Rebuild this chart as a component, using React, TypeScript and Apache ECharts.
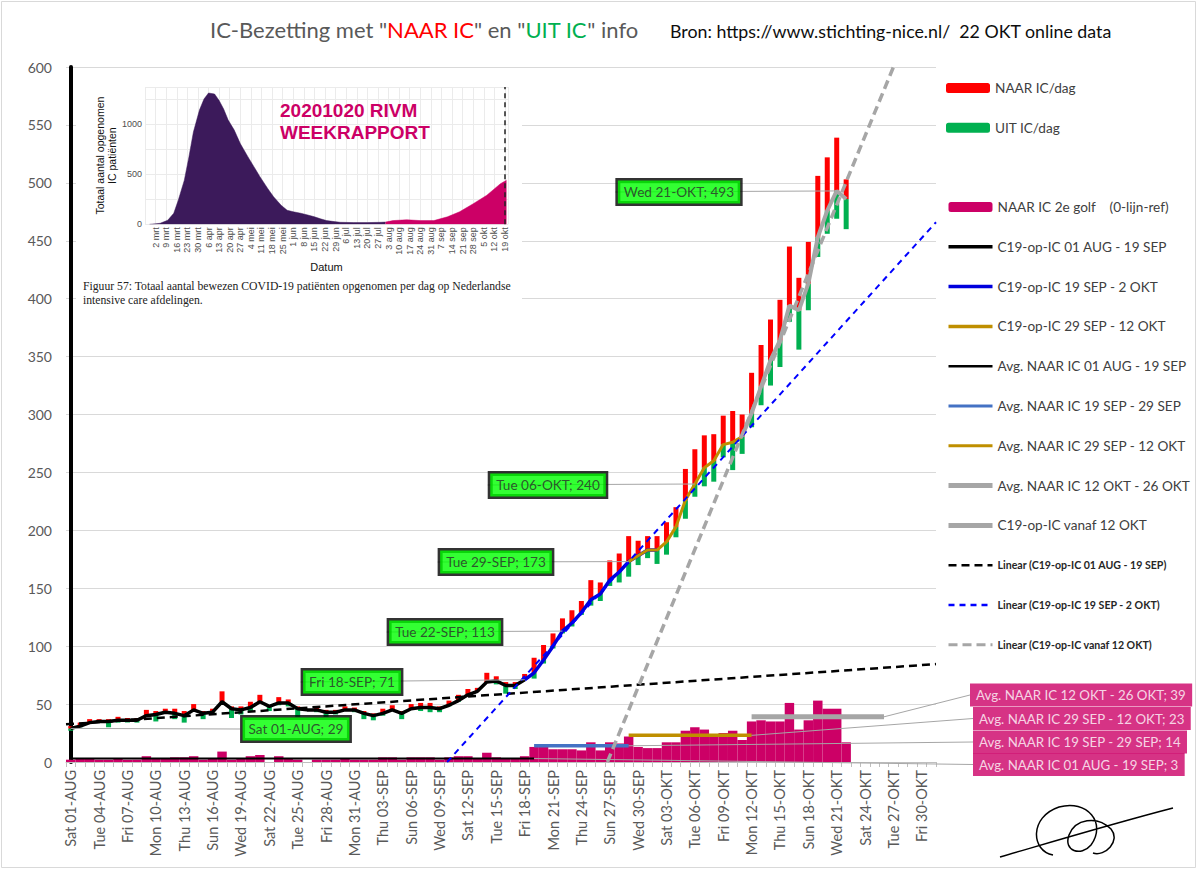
import React, { useEffect, useRef } from 'react';
import * as echarts from 'echarts';

// ---------- categories (1 AUG .. 31 OKT 2020) ----------
const N_DAYS = 92;
const MONTHS_UP = ['JAN', 'FEB', 'MRT', 'APR', 'MEI', 'JUN', 'JUL', 'AUG', 'SEP', 'OKT', 'NOV', 'DEC'];
const DAY_NAMES = ['Sun', 'Mon', 'Tue', 'Wed', 'Thu', 'Fri', 'Sat'];
const pad2 = (n: number) => (n < 10 ? '0' + n : '' + n);
const categories: string[] = Array.from({ length: N_DAYS }, (_, i) => {
  const d = new Date(Date.UTC(2020, 7, 1 + i));
  return `${DAY_NAMES[d.getUTCDay()]} ${pad2(d.getUTCDate())}-${MONTHS_UP[d.getUTCMonth()]}`;
});

// ---------- daily values (1 AUG .. 22 OKT) ----------
const occupancy = [
  29, 31, 34, 35, 35, 36, 36, 36, 40, 41,
  43, 42, 40, 45, 42, 43, 52, 46, 45, 47,
  52, 48, 51, 51, 46, 45, 45, 43, 43, 45,
  45, 42, 40, 42, 45, 42, 46, 47, 47, 46,
  49, 53, 58, 61, 69, 70, 66, 66, 71, 77,
  88, 100, 113, 120, 129, 140, 145, 157, 164, 173,
  178, 183, 183, 190, 203, 226, 240, 254, 260, 274,
  276, 281, 301, 324, 347, 364, 394, 390, 413, 453,
  476, 493, 486,
];
const naarIC = [
  2, 3, 3, 2, 2, 3, 2, 2, 5, 3,
  3, 4, 4, 5, 2, 3, 9, 2, 3, 5,
  6, 0, 5, 3, 2, 0, 2, 2, 2, 3,
  2, 2, 2, 4, 4, 2, 4, 4, 4, 2,
  4, 5, 5, 3, 8, 4, 3, 3, 5, 13,
  13, 11, 11, 11, 10, 17, 10, 17, 16, 22,
  13, 12, 12, 17, 17, 27, 30, 28, 23, 25,
  27, 19, 35, 36, 35, 35, 51, 28, 36, 53,
  46, 46, 17,
];
const uitIC = [
  2, 1, 0, 1, 5, 2, 2, 2, 1, 6,
  1, 5, 6, 0, 5, 2, 0, 8, 4, 3,
  1, 4, 2, 3, 7, 1, 2, 4, 2, 1,
  2, 5, 4, 2, 1, 5, 0, 3, 4, 3,
  1, 1, 0, 0, 0, 3, 7, 3, 0, 5,
  3, 2, 2, 3, 2, 5, 6, 5, 9, 13,
  8, 7, 12, 11, 9, 16, 11, 16, 18, 11,
  24, 15, 12, 16, 22, 23, 14, 34, 23, 17,
  20, 24, 26,
];

// line segments of the occupancy curve [from, to] (day index)
const segBlack = [0, 48];
const segBlue = [48, 62];
const segGold = [59, 71];
const segGrey = [71, 82];

// averages of NAAR IC per period
const avgPeriods = ['01 AUG - 19 SEP', '19 SEP - 29 SEP', '29 SEP - 12 OKT', '12 OKT - 26 OKT'];
const avgValues = [3, 14, 23, 39];
const avgStart = [0, 49, 59, 72];
const avgEnd = [49, 59, 72, 86];

// linear trend lines: [dayIndex, value] end points
const trendAug = [[-0.5, 32.5], [91.5, 84.5]];
const trendSep = [[39.8, 0], [91.5, 466]];
const trendOct = [[56.75, 0], [87.0, 600]];

// labelled days
const occLabelIdx = [0, 48, 52, 59, 66, 81];

// y ticks
const Y_MAX = 600;
const Y_STEP = 50;

// ---------- inset (RIVM weekrapport), x = days since 24 feb 2020 ----------
const rivmDays1 = [3, 7, 10, 15, 19, 22, 26, 29, 32, 36, 39, 42, 46, 49, 52, 55, 59, 63, 68, 72, 76, 81, 85, 90, 94, 98, 103, 107, 112, 116, 120, 125, 129, 138, 147, 156, 159];
const rivmVals1 = [0, 5, 10, 40, 110, 240, 440, 670, 920, 1140, 1250, 1310, 1300, 1235, 1150, 1040, 940, 805, 675, 575, 475, 360, 275, 190, 140, 125, 110, 95, 75, 55, 37, 27, 20, 17, 17, 20, 22];
const rivmDays2 = [159, 164, 173, 182, 191, 200, 208, 217, 226, 235, 239];
const rivmVals2 = [22, 37, 45, 37, 37, 75, 125, 205, 290, 405, 440];
const NL_MONTHS = ['jan', 'feb', 'mrt', 'apr', 'mei', 'jun', 'jul', 'aug', 'sep', 'okt', 'nov', 'dec'];
const RIVM_MARK_DAY = 238; // 19 okt

// ---------- layout (pixels) ----------
const occLabelPos = [[296, 729], [352, 682], [445, 632], [496, 562], [548, 485], [679, 192]];
const avgLabelPos = [[973, 764.5], [973, 742], [973, 718.5], [970, 695]];

const SIGNATURE_D =
  'M5 62 C 60 46, 120 28, 178 13 M58 60 C 36 56, 34 22, 64 12 C 92 4, 112 28, 96 50 C 86 62, 68 56, 74 40 C 80 24, 102 20, 116 34 C 126 46, 110 62, 98 58';
echarts.graphic.registerShape('signature', echarts.graphic.extendPath(SIGNATURE_D, {}));

const seg = (arr: number[], r: number[]) =>
  Array.from({ length: N_DAYS }, (_, i) => (i >= r[0] && i <= r[1] && i < arr.length ? arr[i] : null));
const full = (arr: (number | null)[]) => Array.from({ length: N_DAYS }, (_, i) => (i < arr.length ? arr[i] : null));

const FONT = 'Lato';

function buildOption(): any {
  const base = full(occupancy.map((v, i) => v - uitIC[i]));
  const lineSeries = (name: string, data: any[], color: string, width: number, extra: any = {}) => ({
    name,
    type: 'line',
    xAxisIndex: 0,
    yAxisIndex: 0,
    data,
    symbol: 'none',
    showSymbol: false,
    connectNulls: false,
    lineStyle: { color, width },
    itemStyle: { color },
    silent: true,
    z: 4,
    ...extra,
  });
  const trendSeries = (name: string, data: number[][], color: string, width: number, dash: number[]) => ({
    name,
    type: 'line',
    xAxisIndex: 2,
    yAxisIndex: 0,
    data,
    symbol: 'none',
    showSymbol: false,
    lineStyle: { color, width, type: dash },
    itemStyle: { color },
    silent: true,
    z: 5,
  });
  const avgColors = ['#000000', '#4472C4', '#BF8F00', '#A6A6A6'];
  const avgWidths = [2, 3.5, 3.5, 5];
  const avgSeries = avgPeriods.map((p, k) =>
    lineSeries(
      `Avg. NAAR IC ${p}`,
      Array.from({ length: N_DAYS }, (_, i) => (i >= avgStart[k] && i <= avgEnd[k] ? avgValues[k] : null)),
      avgColors[k],
      avgWidths[k],
      { z: 3 }
    )
  );

  const legendText = { color: '#404040', fontSize: 13.6, fontFamily: FONT, lineHeight: 16 };
  const linearText = { color: '#262626', fontSize: 10.6, fontWeight: 'bold', fontFamily: FONT, lineHeight: 16 };
  const hideSym = { opacity: 0 };
  const lineItem = (name: string, width: number, textStyle?: any) => {
    const item: any = { name, itemStyle: hideSym, lineStyle: { width } };
    if (textStyle) item.textStyle = textStyle;
    return item;
  };

  return {
    animation: false,
    backgroundColor: '#ffffff',
    textStyle: { fontFamily: FONT },
    title: [
      {
        text: '{a|IC-Bezetting met "}{r|NAAR IC}{a|" en "}{g|UIT IC}{a|" info}',
        left: 210,
        top: 18,
        padding: 0,
        textStyle: {
          fontWeight: 'normal',
          rich: {
            a: { color: '#595959', fontSize: 22, fontWeight: 'normal', fontFamily: FONT },
            r: { color: '#FF0000', fontSize: 22, fontWeight: 'normal', fontFamily: FONT },
            g: { color: '#00B050', fontSize: 22, fontWeight: 'normal', fontFamily: FONT },
          },
        },
      },
      {
        text: 'Bron: https://www.stichting-nice.nl/  22 OKT online data',
        left: 670,
        top: 22,
        padding: 0,
        textStyle: { color: '#0D0D0D', fontSize: 17.8, fontWeight: 'normal', fontFamily: FONT },
      },
    ],
    legend: [
      {
        orient: 'vertical',
        left: 946,
        top: 80,
        padding: 0,
        itemWidth: 44,
        itemHeight: 10,
        itemGap: 23.8,
        selectedMode: false,
        textStyle: legendText,
        data: ['NAAR IC/dag', 'UIT IC/dag'],
      },
      {
        orient: 'vertical',
        left: 946,
        top: 199,
        padding: 0,
        itemWidth: 44,
        itemHeight: 10,
        itemGap: 23.8,
        selectedMode: false,
        textStyle: legendText,
        data: [
          { name: 'NAAR IC 2e golf    (0-lijn-ref)' },
          lineItem('C19-op-IC 01 AUG - 19 SEP', 3.5),
          lineItem('C19-op-IC 19 SEP - 2 OKT', 3.5),
          lineItem('C19-op-IC 29 SEP - 12 OKT', 3.5),
          lineItem('Avg. NAAR IC 01 AUG - 19 SEP', 2.5),
          lineItem('Avg. NAAR IC 19 SEP - 29 SEP', 3),
          lineItem('Avg. NAAR IC 29 SEP - 12 OKT', 3),
          lineItem('Avg. NAAR IC 12 OKT - 26 OKT', 5),
          lineItem('C19-op-IC vanaf 12 OKT', 5),
          lineItem('Linear (C19-op-IC 01 AUG - 19 SEP)', 2.5, linearText),
          lineItem('Linear (C19-op-IC 19 SEP - 2 OKT)', 2.5, linearText),
          lineItem('Linear (C19-op-IC vanaf 12 OKT)', 3, linearText),
        ],
      },
    ],
    grid: [
      { left: 66, top: 67, width: 870, height: 695 },
      { left: 145, top: 87, width: 363, height: 137.3 },
    ],
    xAxis: [
      {
        type: 'category',
        gridIndex: 0,
        data: categories,
        boundaryGap: true,
        axisLine: { lineStyle: { color: '#BFBFBF', width: 1 } },
        axisTick: { show: true, interval: 0, length: 5, lineStyle: { color: '#BFBFBF' } },
        axisLabel: { interval: 2, rotate: 90, color: '#595959', fontSize: 14.5, margin: 8, fontFamily: FONT },
        splitLine: { show: false },
      },
      {
        type: 'category',
        gridIndex: 0,
        data: categories,
        show: false,
      },
      {
        type: 'value',
        gridIndex: 0,
        min: -0.5,
        max: N_DAYS - 0.5,
        show: false,
      },
      {
        type: 'value',
        gridIndex: 1,
        min: 0,
        max: 240,
        interval: 7,
        z: 3,
        name: 'Datum',
        nameLocation: 'middle',
        nameGap: 37,
        nameTextStyle: { color: '#111', fontSize: 11, fontFamily: 'Liberation Sans' },
        axisLine: { show: false },
        axisTick: { show: false },
        axisLabel: {
          rotate: 90,
          margin: 3,
          fontSize: 9,
          color: '#4D4D4D',
          fontFamily: 'Liberation Sans',
          formatter: (v: number) => {
            if (v < 7 || v > RIVM_MARK_DAY || v % 7 !== 0) return '';
            const d = new Date(Date.UTC(2020, 1, 24 + v));
            return `${d.getUTCDate()} ${NL_MONTHS[d.getUTCMonth()]}`;
          },
        },
        splitLine: { show: true, lineStyle: { color: '#EBEBEB', width: 1 } },
      },
    ],
    yAxis: [
      {
        type: 'value',
        gridIndex: 0,
        min: 0,
        max: Y_MAX,
        interval: Y_STEP,
        axisLine: { show: true, lineStyle: { color: '#000000', width: 4 } },
        axisTick: { show: false },
        axisLabel: { color: '#595959', fontSize: 14, margin: 14, fontFamily: FONT },
        splitLine: { show: true, lineStyle: { color: '#D9D9D9', width: 1 } },
      },
      {
        type: 'value',
        gridIndex: 1,
        min: 0,
        max: 1370,
        interval: 250,
        z: 3,
        name: 'Totaal aantal opgenomen\nIC patiënten',
        nameLocation: 'middle',
        nameRotate: 90,
        nameGap: 27,
        nameTextStyle: { color: '#111', fontSize: 10.5, lineHeight: 12, fontFamily: 'Liberation Sans' },
        axisLine: { show: false },
        axisTick: { show: false },
        axisLabel: {
          margin: 3,
          fontSize: 9,
          color: '#4D4D4D',
          fontFamily: 'Liberation Sans',
          formatter: (v: number) => (v % 500 === 0 && v <= 1000 ? String(v) : ''),
        },
        splitLine: { show: true, lineStyle: { color: '#EBEBEB', width: 1 } },
      },
    ],
    series: [
      {
        name: 'NAAR IC 2e golf    (0-lijn-ref)',
        type: 'bar',
        xAxisIndex: 1,
        yAxisIndex: 0,
        data: full(naarIC),
        barCategoryGap: '0%',
        itemStyle: { color: '#CC0066' },
        silent: true,
        z: 2,
      },
      {
        name: '_base',
        type: 'bar',
        stack: 'ud',
        xAxisIndex: 0,
        yAxisIndex: 0,
        data: base,
        barWidth: 5,
        itemStyle: { color: 'rgba(0,0,0,0)' },
        silent: true,
        z: 2,
      },
      {
        name: 'UIT IC/dag',
        type: 'bar',
        stack: 'ud',
        xAxisIndex: 0,
        yAxisIndex: 0,
        data: full(uitIC),
        barWidth: 5,
        itemStyle: { color: '#00B050' },
        silent: true,
        z: 2,
      },
      {
        name: 'NAAR IC/dag',
        type: 'bar',
        stack: 'ud',
        xAxisIndex: 0,
        yAxisIndex: 0,
        data: full(naarIC),
        barWidth: 5,
        itemStyle: { color: '#FF0000' },
        silent: true,
        z: 2,
      },
      ...avgSeries,
      trendSeries('Linear (C19-op-IC 01 AUG - 19 SEP)', trendAug, '#000000', 2.5, [8, 5]),
      trendSeries('Linear (C19-op-IC 19 SEP - 2 OKT)', trendSep, '#0000FF', 2, [6, 5]),
      trendSeries('Linear (C19-op-IC vanaf 12 OKT)', trendOct, '#A6A6A6', 3.5, [9, 5]),
      lineSeries('C19-op-IC 01 AUG - 19 SEP', seg(occupancy, segBlack), '#000000', 3.5),
      lineSeries('C19-op-IC 19 SEP - 2 OKT', seg(occupancy, segBlue), '#0000DD', 3.5),
      lineSeries('C19-op-IC 29 SEP - 12 OKT', seg(occupancy, segGold), '#BF8F00', 3),
      lineSeries('C19-op-IC vanaf 12 OKT', seg(occupancy, segGrey), '#A6A6A6', 4),
      {
        name: '_occLabels',
        type: 'scatter',
        xAxisIndex: 0,
        yAxisIndex: 0,
        symbolSize: 0,
        silent: true,
        z: 6,
        data: occLabelIdx.map((i) => [i, occupancy[i]]),
        label: {
          show: true,
          formatter: (p: any) => `${categories[p.value[0]]}; ${p.value[1]}`,
          color: '#2B2B2B',
          fontSize: 13.6,
          fontFamily: FONT,
          backgroundColor: '#00FF00',
          borderColor: '#000000',
          borderWidth: 2.5,
          padding: [5, 6, 4, 6],
        },
        labelLine: { show: true, lineStyle: { color: '#A6A6A6', width: 1 } },
        labelLayout: (p: any) => ({
          x: occLabelPos[p.dataIndex][0],
          y: occLabelPos[p.dataIndex][1],
          align: 'center',
          verticalAlign: 'middle',
        }),
      },
      {
        name: '_avgLabels',
        type: 'scatter',
        xAxisIndex: 0,
        yAxisIndex: 0,
        symbolSize: 0,
        silent: true,
        z: 6,
        data: avgPeriods.map((p, k) => [avgEnd[k], avgValues[k]]),
        label: {
          show: true,
          formatter: (p: any) => `Avg. NAAR IC ${avgPeriods[p.dataIndex]}; ${avgValues[p.dataIndex]}`,
          color: '#FFFFFF',
          fontSize: 13.3,
          fontFamily: FONT,
          backgroundColor: '#CC0066',
          padding: [5, 6, 5, 6],
        },
        labelLine: { show: true, lineStyle: { color: '#A6A6A6', width: 1 } },
        labelLayout: (p: any) => ({
          x: avgLabelPos[p.dataIndex][0],
          y: avgLabelPos[p.dataIndex][1],
          align: 'left',
          verticalAlign: 'middle',
        }),
      },
      {
        name: 'RIVM 1e golf',
        type: 'line',
        xAxisIndex: 3,
        yAxisIndex: 1,
        data: rivmDays1.map((d, i) => [d, rivmVals1[i]]),
        symbol: 'none',
        lineStyle: { color: '#3C1A5B', width: 0.5 },
        areaStyle: { color: '#3C1A5B', opacity: 1 },
        silent: true,
        z: 3,
      },
      {
        name: 'RIVM 2e golf',
        type: 'line',
        xAxisIndex: 3,
        yAxisIndex: 1,
        data: rivmDays2.map((d, i) => [d, rivmVals2[i]]),
        symbol: 'none',
        lineStyle: { color: '#CC0066', width: 0.5 },
        areaStyle: { color: '#CC0066', opacity: 1 },
        silent: true,
        z: 3,
        markLine: {
          silent: true,
          symbol: 'none',
          label: { show: false },
          lineStyle: { type: [5, 4], color: '#222222', width: 1.5 },
          data: [{ xAxis: RIVM_MARK_DAY }],
        },
      },
    ],
    graphic: [
      {
        type: 'rect',
        z: 0,
        silent: true,
        shape: { x: 1.5, y: 1.5, width: 1194, height: 866 },
        style: { fill: 'none', stroke: '#D9D9D9', lineWidth: 1 },
      },
      {
        type: 'rect',
        z: 1,
        silent: true,
        shape: { x: 76, y: 68.5, width: 446, height: 250 },
        style: { fill: '#FFFFFF' },
      },
      {
        type: 'text',
        z: 10,
        silent: true,
        x: 280,
        y: 99,
        style: {
          text: '20201020 RIVM\nWEEKRAPPORT',
          fill: '#CC0066',
          fontSize: 19,
          fontWeight: 'bold',
          fontFamily: 'Liberation Sans',
          lineHeight: 22,
          align: 'left',
          verticalAlign: 'top',
        },
      },
      {
        type: 'text',
        z: 10,
        silent: true,
        x: 83,
        y: 279,
        style: {
          text: 'Figuur 57: Totaal aantal bewezen COVID-19 patiënten opgenomen per dag op Nederlandse\nintensive care afdelingen.',
          fill: '#222222',
          fontSize: 11.7,
          fontFamily: 'Liberation Serif',
          lineHeight: 14,
          align: 'left',
          verticalAlign: 'top',
        },
      },
      {
        type: 'signature',
        z: 10,
        silent: true,
        x: 995,
        y: 795,
        style: { fill: 'none', stroke: '#000000', lineWidth: 1.5 },
      },
    ],
  };
}

export default function App() {
  const ref = useRef<HTMLDivElement>(null);
  useEffect(() => {
    if (!ref.current) return;
    const chart = echarts.init(ref.current, null, { renderer: 'svg' });
    chart.setOption(buildOption());
    return () => chart.dispose();
  }, []);
  return (
    <div
      ref={ref}
      style={{ position: 'absolute', left: 0, top: 0, width: 1198, height: 871, background: '#ffffff' }}
    />
  );
}
